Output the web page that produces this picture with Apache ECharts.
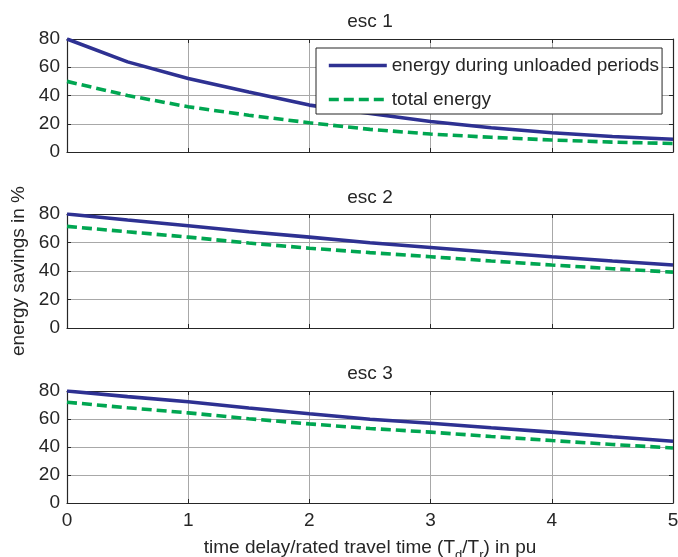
<!DOCTYPE html>
<html>
<head>
<meta charset="utf-8">
<script src="https://cdn.jsdelivr.net/npm/echarts@6/dist/echarts.min.js"></script>
<style>
html,body{margin:0;padding:0;background:#fff;}
#chart{width:678px;height:557px;}
</style>
</head>
<body>
<div id="chart"></div>
<script>
// ---- data ----
const xValues = [0, 0.5, 1, 1.5, 2, 2.5, 3, 3.5, 4, 4.5, 5];
const panelTitles = ['esc 1', 'esc 2', 'esc 3'];
const seriesNames = ['energy during unloaded periods', 'total energy'];
const esc1Unloaded = [80, 63.8, 52, 42.5, 33.2, 27.3, 21.6, 17.2, 13.6, 11, 9];
const esc1Total    = [50, 40, 32, 26, 20.7, 16, 12.7, 10.4, 8.5, 7, 6];
const esc2Unloaded = [80, 75.8, 71.8, 67.6, 63.8, 59.8, 56.5, 53.2, 50, 47, 44.2];
const esc2Total    = [71.3, 67.5, 63.8, 59.6, 56, 52.9, 50, 47, 44.2, 41.6, 39.2];
const esc3Unloaded = [80, 76, 72.3, 67.9, 63.7, 59.8, 57, 53.7, 50.6, 47.3, 44.1];
const esc3Total    = [72, 68, 64.4, 60.2, 56.5, 53.2, 50.6, 47.5, 44.6, 41.8, 39.3];
const xTicks = [0, 1, 2, 3, 4, 5];
const yTicks = [0, 20, 40, 60, 80];
const yLabel = 'energy savings in %';
const xLabel = 'time delay/rated travel time (T{sub|d}/T{sub|r}) in pu';

// ---- layout ----
const FONT = 'Liberation Sans, Arial, Helvetica, sans-serif';
const TXT = '#262626';
const BLUE = '#2e3192';
const GREEN = '#00a651';
const GRIDC = '#a8a8a8';
const grids = [
  {left: 67, right: 5, top: 39, height: 113, outerBoundsMode: 'none'},
  {left: 67, right: 5, top: 214, height: 114, outerBoundsMode: 'none'},
  {left: 67, right: 5, top: 391, height: 112, outerBoundsMode: 'none'}
];
const titleTops = [12, 188, 364];
const panels = [[esc1Unloaded, esc1Total], [esc2Unloaded, esc2Total], [esc3Unloaded, esc3Total]];

const xAxes = [], yAxes = [], series = [];
grids.forEach((g, i) => {
  const isLast = i === grids.length - 1;
  xAxes.push({
    type: 'value', gridIndex: i, position: 'bottom',
    min: xTicks[0], max: xTicks[xTicks.length - 1], interval: xTicks[1] - xTicks[0],
    axisLine: {show: true, onZero: false, lineStyle: {color: TXT, width: 1.2}},
    axisTick: {show: true, inside: true, length: 4, lineStyle: {color: TXT}},
    axisLabel: {show: isLast, color: TXT, fontSize: 19, fontFamily: FONT, margin: 8},
    splitLine: {show: true, lineStyle: {color: GRIDC, width: 1}},
    name: isLast ? xLabel : '', nameLocation: 'middle', nameGap: 30,
    nameTextStyle: {color: TXT, fontSize: 19, fontFamily: FONT,
      rich: {sub: {fontSize: 13, fontFamily: FONT, color: TXT, padding: [16, 0, 0, 0]}}}
  });
  xAxes.push({
    type: 'value', gridIndex: i, position: 'top',
    min: xTicks[0], max: xTicks[xTicks.length - 1], interval: xTicks[1] - xTicks[0],
    axisLine: {show: true, onZero: false, lineStyle: {color: TXT, width: 1.2}},
    axisTick: {show: true, inside: true, length: 4, lineStyle: {color: TXT}},
    axisLabel: {show: false}, splitLine: {show: false}
  });
  yAxes.push({
    type: 'value', gridIndex: i, position: 'left',
    min: yTicks[0], max: yTicks[yTicks.length - 1], interval: yTicks[1] - yTicks[0],
    axisLine: {show: true, onZero: false, lineStyle: {color: TXT, width: 1.2}},
    axisTick: {show: true, inside: true, length: 4, lineStyle: {color: TXT}},
    axisLabel: {show: true, color: TXT, fontSize: 19, fontFamily: FONT, margin: 7},
    splitLine: {show: true, lineStyle: {color: GRIDC, width: 1}},
    name: i === 1 ? yLabel : '', nameLocation: 'middle', nameGap: 33, nameRotate: 90,
    nameTextStyle: {color: TXT, fontSize: 19, fontFamily: FONT}
  });
  yAxes.push({
    type: 'value', gridIndex: i, position: 'right',
    min: yTicks[0], max: yTicks[yTicks.length - 1], interval: yTicks[1] - yTicks[0],
    axisLine: {show: true, onZero: false, lineStyle: {color: TXT, width: 1.2}},
    axisTick: {show: true, inside: true, length: 4, lineStyle: {color: TXT}},
    axisLabel: {show: false}, splitLine: {show: false}
  });
  const [u, t] = panels[i];
  series.push({
    name: seriesNames[0], type: 'line', xAxisIndex: 2 * i, yAxisIndex: 2 * i,
    data: xValues.map((x, k) => [x, u[k]]), symbol: 'none', smooth: false,
    lineStyle: {color: BLUE, width: 3.6}, itemStyle: {color: BLUE}, z: 3
  });
  series.push({
    name: seriesNames[1], type: 'line', xAxisIndex: 2 * i, yAxisIndex: 2 * i,
    data: xValues.map((x, k) => [x, t[k]]), symbol: 'none', smooth: false,
    lineStyle: {color: GREEN, width: 3.6, type: [10, 5]}, itemStyle: {color: GREEN}, z: 2
  });
});

const option = {
  backgroundColor: '#fff',
  animation: false,
  title: panelTitles.map((t, i) => ({
    text: t, left: 370, top: titleTops[i], textAlign: 'center', padding: 0,
    textStyle: {color: TXT, fontSize: 19, fontWeight: 'normal', fontFamily: FONT}
  })),
  legend: {
    data: seriesNames, orient: 'vertical', left: 316, top: 48,
    itemWidth: 58, itemHeight: 14, itemGap: 15,
    padding: [8, 3, 5, 11],
    backgroundColor: '#fff', borderColor: TXT, borderWidth: 1,
    itemStyle: {opacity: 0},
    lineStyle: {width: 3.6},
    textStyle: {color: TXT, fontSize: 19, fontFamily: FONT},
    selectedMode: false
  },
  grid: grids,
  xAxis: xAxes,
  yAxis: yAxes,
  series: series
};

const chart = echarts.init(document.getElementById('chart'), null, {renderer: 'canvas'});
chart.setOption(option);
</script>
</body>
</html>
